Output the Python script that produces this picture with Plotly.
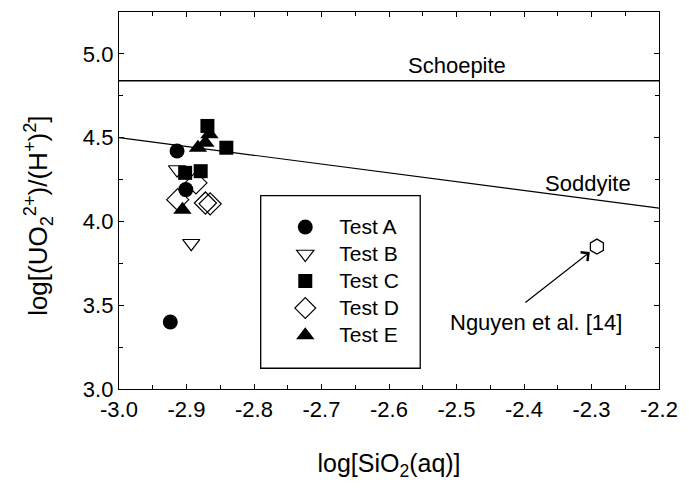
import plotly.graph_objects as go

# ---- data ----
testA_x = [-2.914, -2.901, -2.924]
testA_y = [4.42, 4.19, 3.40]
testB_x = [-2.914, -2.893]
testB_y = [4.31, 3.87]
testC_x = [-2.869, -2.841, -2.902, -2.879]
testC_y = [4.57, 4.44, 4.29, 4.30]
testD_x = [-2.886, -2.913, -2.872, -2.865]
testD_y = [4.23, 4.13, 4.11, 4.105]
testE_x = [-2.866, -2.883, -2.872, -2.906]
testE_y = [4.52, 4.44, 4.47, 4.07]
nguyen_x = [-2.292]
nguyen_y = [3.85]

schoepite_x = [-3.0, -2.2]
schoepite_y = [4.84, 4.84]
soddyite_x = [-3.0, -2.2]
soddyite_y = [4.50, 4.08]

x_ticks = [-3.0, -2.9, -2.8, -2.7, -2.6, -2.5, -2.4, -2.3, -2.2]
y_ticks = [3.0, 3.5, 4.0, 4.5, 5.0]

FONT = "Liberation Sans, Arial, sans-serif"

fig = go.Figure()

fig.add_trace(go.Scatter(x=schoepite_x, y=schoepite_y, mode="lines",
                         line=dict(color="black", width=1.4), showlegend=False, hoverinfo="skip"))
fig.add_trace(go.Scatter(x=soddyite_x, y=soddyite_y, mode="lines",
                         line=dict(color="black", width=1.2), showlegend=False, hoverinfo="skip"))

def lg(t):
    return '<span style="font-size:21px">' + t + '</span>'

fig.add_trace(go.Scatter(x=testA_x, y=testA_y, mode="markers", name=lg("Test A"),
                         marker=dict(symbol="circle", size=15, color="black")))
fig.add_trace(go.Scatter(x=testB_x, y=testB_y, mode="markers", name=lg("Test B"),
                         marker=dict(symbol="triangle-down-open", size=15, color="black",
                                     line=dict(width=1.2))))
fig.add_trace(go.Scatter(x=testC_x, y=testC_y, mode="markers", name=lg("Test C"),
                         marker=dict(symbol="square", size=14, color="black")))
fig.add_trace(go.Scatter(x=testD_x, y=testD_y, mode="markers", name=lg("Test D"),
                         marker=dict(symbol="diamond-open", size=17, color="black",
                                     line=dict(width=1.2))))
fig.add_trace(go.Scatter(x=testE_x, y=testE_y, mode="markers", name=lg("Test E"),
                         marker=dict(symbol="triangle-up", size=16, color="black")))
fig.add_trace(go.Scatter(x=nguyen_x, y=nguyen_y, mode="markers", showlegend=False,
                         marker=dict(symbol="hexagon-open", size=15, color="black",
                                     line=dict(width=1.3))))

axis_common = dict(
    showgrid=False, zeroline=False, showline=True, linecolor="black", linewidth=1.4,
    mirror="ticks", ticks="inside", ticklen=5, tickcolor="black", tickwidth=1,
    tickfont=dict(family=FONT, size=22, color="black"),
)

fig.update_xaxes(range=[-3.0, -2.2], tickvals=x_ticks,
                 ticktext=[f"{v:.1f}" for v in x_ticks],
                 minor=dict(dtick=0.05, ticks="inside", ticklen=4, tickcolor="black"),
                 title=dict(text="log[SiO<sub>2</sub>(aq)]", font=dict(family=FONT, size=25, color="black"),
                            standoff=33),
                 **axis_common)
fig.update_yaxes(range=[3.0, 5.25], tickvals=y_ticks,
                 ticktext=[f"{v:.1f}" for v in y_ticks],
                 minor=dict(dtick=0.25, ticks="inside", ticklen=4, tickcolor="black"),
                 **axis_common)

# y-axis title (placed slightly below the plot centre, as in the reference)
fig.add_annotation(xref="paper", yref="paper", x=-0.149, y=0.458, textangle=-90,
                   xanchor="center", yanchor="middle",
                   text="log[(UO<sub>2</sub><sup>2+</sup>)/(H<sup>+</sup>)<sup>2</sup>]",
                   showarrow=False, font=dict(family=FONT, size=26, color="black"))

fig.add_annotation(x=-2.499, y=4.845, text="Schoepite", showarrow=False, yanchor="bottom",
                   yshift=0, font=dict(family=FONT, size=22, color="black"))
fig.add_annotation(x=-2.305, y=4.226, text="Soddyite", showarrow=False,
                   font=dict(family=FONT, size=22, color="black"))
fig.add_annotation(x=-2.382, y=3.399, text="Nguyen et al. [14]", showarrow=False,
                   font=dict(family=FONT, size=22, color="black"))
fig.add_annotation(x=nguyen_x[0], y=nguyen_y[0], text="", showarrow=True,
                   arrowhead=4, arrowsize=1.8, arrowwidth=1.2, arrowcolor="black",
                   axref="pixel", ayref="pixel", ax=-73, ay=57, standoff=9)

# legend box
fig.add_shape(type="rect", xref="paper", yref="paper", x0=0.2624, x1=0.5578, y0=0.055, y1=0.513,
              line=dict(color="black", width=1.3), fillcolor="white", layer="below")

fig.update_layout(
    width=689, height=495,
    margin=dict(l=119, r=25, t=11, b=106),
    paper_bgcolor="white", plot_bgcolor="white",
    showlegend=True,
    legend=dict(x=0.282, y=0.479, xanchor="left", yanchor="top", bgcolor="rgba(0,0,0,0)",
                borderwidth=0, itemwidth=58, tracegroupgap=0,
                font=dict(family=FONT, size=18.5, color="black")),
    font=dict(family=FONT, color="black"),
)

fig.write_html("out.html")
